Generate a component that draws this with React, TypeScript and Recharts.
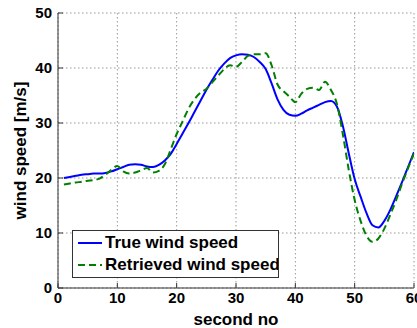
import React from 'react';
import { LineChart, Line, XAxis, YAxis, CartesianGrid } from 'recharts';

const seconds = [
  1, 2, 3, 4, 5, 6, 7, 8, 9, 10, 11, 12, 13, 14, 15, 16, 17, 18, 19, 20,
  21, 22, 23, 24, 25, 26, 27, 28, 29, 30, 31, 32, 33, 34, 35, 36, 37, 38, 39, 40,
  41, 42, 43, 44, 45, 46, 47, 48, 49, 50, 51, 52, 53, 54, 55, 56, 57, 58, 59, 60,
];

const trueSpeed = [
  20.0, 20.2, 20.4, 20.6, 20.7, 20.8, 20.8, 20.9, 21.2, 21.6,
  22.0, 22.4, 22.5, 22.4, 22.1, 22.0, 22.4, 23.2, 24.4, 26.2,
  28.1, 30.0, 32.0, 34.0, 36.0, 37.8, 39.5, 40.8, 41.8, 42.3,
  42.5, 42.4, 42.0, 41.1, 39.8, 37.2, 34.3, 32.4, 31.5, 31.3,
  31.7, 32.3, 32.8, 33.3, 33.8, 34.0, 33.0, 29.5, 24.5, 19.8,
  16.6, 13.6, 11.4, 11.0, 12.2, 14.2, 16.7, 19.3, 22.0, 24.7,
];

const retrievedSpeed = [
  18.8, 19.0, 19.2, 19.3, 19.5, 19.6, 19.9, 20.6, 21.5, 22.2,
  21.2, 20.8, 21.0, 21.4, 21.8, 21.0, 21.3, 22.5, 25.2, 28.0,
  30.3, 32.6, 34.3, 35.5, 36.2, 37.4, 38.6, 39.8, 40.5, 40.2,
  41.1, 42.2, 42.5, 42.5, 42.7, 40.5, 37.0, 35.8, 34.8, 33.8,
  35.3, 36.2, 36.4, 36.0, 37.5, 36.0, 33.5, 28.0, 21.5, 16.0,
  12.2, 9.5, 8.4, 9.0, 10.8, 13.3, 16.0, 19.0, 21.8, 24.5,
];

const xTicks = [0, 10, 20, 30, 40, 50, 60];
const yTicks = [0, 10, 20, 30, 40, 50];

const data = seconds.map((s, i) => ({
  second: s,
  trueSpeed: trueSpeed[i],
  retrieved: retrievedSpeed[i],
}));

const font = '"Liberation Sans", Arial, Helvetica, sans-serif';
const tickStyle = { fill: '#000', fontSize: 15, fontWeight: 'bold', fontFamily: font };
const labelStyle = { ...tickStyle, fontSize: 17 };
const frame = '#333';

const legendRows = [
  { label: 'True wind speed', color: '#0000ff', dash: undefined, top: 1 },
  { label: 'Retrieved wind speed', color: '#008000', dash: '7 4', top: 23 },
];

// legend drawn as a plain box over the plot, text clipped at the right edge like the original
const LegendBox = () => (
  <div
    style={{
      position: 'absolute',
      left: 72,
      top: 230,
      width: 207,
      height: 48,
      boxSizing: 'border-box',
      border: `1px solid ${frame}`,
      background: '#fff',
      overflow: 'hidden',
      whiteSpace: 'nowrap',
      fontFamily: font,
      fontWeight: 'bold',
      fontSize: 17,
      color: '#000',
    }}
  >
    {legendRows.map((r) => (
      <div key={r.label} style={{ position: 'absolute', left: 4, top: r.top, height: 22, display: 'flex', alignItems: 'center' }}>
        <svg width={26} height={6} style={{ marginRight: 2 }}>
          <line x1={1} y1={3} x2={25} y2={3} stroke={r.color} strokeWidth={2} strokeDasharray={r.dash} />
        </svg>
        <span>{r.label}</span>
      </div>
    ))}
  </div>
);

export default function App() {
  return (
    <div style={{ position: 'absolute', left: 0, top: 0, width: 417, height: 328, overflow: 'hidden', background: '#fff' }}>
      <LineChart width={440} height={328} data={data} margin={{ top: 13, right: 26, bottom: 0, left: 0 }}>
        <CartesianGrid stroke="#999" strokeDasharray="1.5 2.5" />
        <XAxis
          dataKey="second"
          type="number"
          domain={[0, 60]}
          ticks={xTicks}
          allowDataOverflow
          height={40}
          stroke={frame}
          tick={tickStyle}
          tickSize={-5}
          tickMargin={9}
          label={{ value: 'second no', position: 'insideBottom', offset: 3, style: labelStyle }}
        />
        <XAxis xAxisId="top" orientation="top" type="number" domain={[0, 60]} ticks={xTicks} height={0} stroke={frame} tick={false} tickSize={-5} />
        <YAxis
          type="number"
          domain={[0, 50]}
          ticks={yTicks}
          width={58}
          stroke={frame}
          tick={tickStyle}
          tickSize={-5}
          tickMargin={11}
          label={{ value: 'wind speed [m/s]', angle: -90, position: 'insideLeft', offset: 20, style: { ...labelStyle, textAnchor: 'middle' } }}
        />
        <YAxis yAxisId="right" orientation="right" type="number" domain={[0, 50]} ticks={yTicks} width={0} stroke={frame} tick={false} tickSize={-5} />
        <Line type="monotone" dataKey="trueSpeed" name="True wind speed" stroke="#0000ff" strokeWidth={2} dot={false} isAnimationActive={false} />
        <Line type="monotone" dataKey="retrieved" name="Retrieved wind speed" stroke="#008000" strokeWidth={2} strokeDasharray="7 4" dot={false} isAnimationActive={false} />
      </LineChart>
      <LegendBox />
    </div>
  );
}
